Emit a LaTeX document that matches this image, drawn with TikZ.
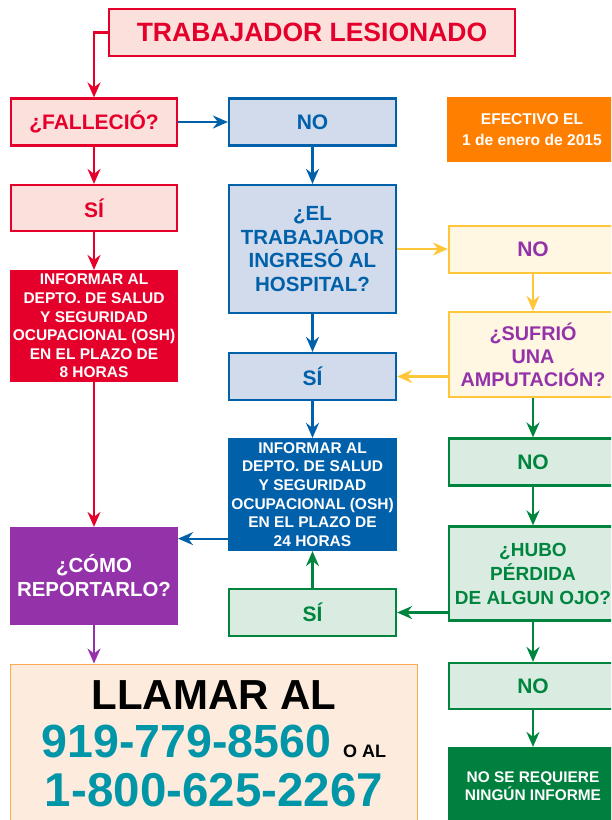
\documentclass[tikz,border=0pt]{standalone}
\usepackage{fontspec}
\setmainfont{Liberation Sans}
\usetikzlibrary{arrows.meta}
\definecolor{diagramrojo}{RGB}{228,0,43}
\definecolor{rojoclaro}{RGB}{252,224,220}
\definecolor{diagramazul}{RGB}{0,96,170}
\definecolor{azulclaro}{RGB}{209,219,236}
\definecolor{diagramamarillo}{RGB}{255,198,58}
\definecolor{amarilloclaro}{RGB}{255,247,226}
\definecolor{diagrammorado}{RGB}{148,50,170}
\definecolor{diagramverde}{RGB}{0,133,62}
\definecolor{verdeclaro}{RGB}{218,236,225}
\definecolor{verdeoscuro}{RGB}{0,128,62}
\definecolor{diagramnaranja}{RGB}{255,128,0}
\definecolor{durazno}{RGB}{253,235,222}
\definecolor{bordenaranja}{RGB}{250,170,80}
\definecolor{turquesa}{RGB}{0,150,168}
\newcommand{\tam}[2]{\fontsize{#1}{#2}\selectfont}

\begin{document}
\begin{tikzpicture}[x=1pt, y=-1pt,
        every node/.style={align=center, inner sep=0pt},
        caja/.style={rectangle, line width=2.2pt},
        cajaRoja/.style={caja, draw=diagramrojo, fill=rojoclaro, text=diagramrojo},
        cajaAzul/.style={caja, draw=diagramazul, fill=azulclaro, text=diagramazul},
        cajaAmarilla/.style={caja, draw=diagramamarillo, fill=amarilloclaro, text=diagrammorado},
        cajaVerde/.style={caja, draw=diagramverde, fill=verdeclaro, text=diagramverde},
        izq/.style={minimum width=166pt},
        medio/.style={minimum width=167pt},
        der/.style={minimum width=168pt},
        flecha/.style={-{Stealth[length=15pt,width=13pt,inset=5pt]}, line width=2.2pt}]

        \useasboundingbox (0,0) rectangle (611,820);
        \clip (0,0) rectangle (611,820);

        % Left column
        \node[cajaRoja, minimum width=406pt, minimum height=47pt, font=\bfseries\tam{26.5}{30}] (tituloBox) at (312,32.5) {TRABAJADOR LESIONADO};
        \node[cajaRoja, izq, minimum height=47pt, font=\bfseries\tam{21}{24}] (fallecioBox) at (94,122) {¿FALLECIÓ?};
        \node[cajaRoja, izq, minimum height=46pt, font=\bfseries\tam{21}{24}] (siRojoBox) at (94,208) {SÍ};
        \node[caja, izq, draw=diagramrojo, fill=diagramrojo, text=white, minimum height=110pt, font=\bfseries\tam{15.5}{18.6}] (informarRojoBox) at (94,326) {%
            INFORMAR AL\\DEPTO. DE SALUD\\Y SEGURIDAD\\OCUPACIONAL (OSH)\\EN EL PLAZO DE\\8 HORAS};
        \node[caja, izq, draw=diagrammorado, fill=diagrammorado, text=white, minimum height=96pt, font=\bfseries\tam{20.4}{24}] (comoBox) at (94,576) {¿CÓMO\\REPORTARLO?};
        \node[caja, line width=1pt, draw=bordenaranja, fill=durazno, minimum width=407pt, minimum height=159pt, font=\bfseries\tam{42}{48.5}] (llamarBox) at (214,743.5) {%
            LLAMAR AL\\
            {\color{turquesa}\tam{46.5}{48.5}919-779-8560} {\tam{18}{48.5}O AL}\\
            {\color{turquesa}\tam{47.5}{48.5}1-800-625-2267}};

        % Middle column
        \node[cajaAzul, medio, minimum height=47pt, font=\bfseries\tam{21}{24}] (noAzulBox) at (312.5,122) {NO};
        \node[cajaAzul, medio, minimum height=128pt, font=\bfseries\tam{20.5}{23.5}] (hospitalBox) at (312.5,249) {¿EL\\TRABAJADOR\\INGRESÓ AL\\HOSPITAL?};
        \node[cajaAzul, medio, minimum height=47pt, font=\bfseries\tam{21}{24}] (siAzulBox) at (312.5,376.5) {SÍ};
        \node[caja, medio, draw=diagramazul, fill=diagramazul, text=white, minimum height=111pt, font=\bfseries\tam{15.5}{18.6}] (informarAzulBox) at (312.5,494.5) {%
            INFORMAR AL\\DEPTO. DE SALUD\\Y SEGURIDAD\\OCUPACIONAL (OSH)\\EN EL PLAZO DE\\24 HORAS};
        \node[cajaVerde, medio, minimum height=47pt, font=\bfseries\tam{21}{24}] (siVerdeBox) at (312.5,612.5) {SÍ};

        % Right column
        \node[fill=diagramnaranja, text=white, minimum width=170pt, minimum height=65pt, font=\bfseries\tam{15.6}{21}] (efectivoBox) at (532,129.5) {EFECTIVO EL\\1 de enero de 2015};
        \node[cajaAmarilla, der, minimum height=47pt, font=\bfseries\tam{21}{24}] (noAmarilloBox) at (533,249.5) {NO};
        \node[cajaAmarilla, der, minimum height=85pt, font=\bfseries\tam{19.8}{23}] (amputacionBox) at (533,354.5) {¿SUFRIÓ\\UNA\\AMPUTACIÓN?};
        \node[cajaVerde, der, minimum height=47pt, font=\bfseries\tam{21}{24}] (noVerdeBox) at (533,462) {NO};
        \node[cajaVerde, der, minimum height=94pt, font=\bfseries\tam{19}{24}] (ojoBox) at (533,573.5) {¿HUBO\\PÉRDIDA\\DE ALGUN OJO?};
        \node[cajaVerde, der, minimum height=46pt, font=\bfseries\tam{21}{24}] (noVerdeDosBox) at (533,686) {NO};
        \node[caja, der, draw=verdeoscuro, fill=verdeoscuro, text=white, minimum height=76pt, font=\bfseries\tam{15.4}{18}] (ningunBox) at (533,786) {NO SE REQUIERE\\NINGÚN INFORME};

        % Connectors
        \draw[flecha, diagramrojo] (tituloBox.west) -| (fallecioBox.north);
        \draw[flecha, diagramrojo] (fallecioBox) -- (siRojoBox);
        \draw[flecha, diagramrojo] (siRojoBox) -- (informarRojoBox);
        \draw[flecha, diagramrojo] (informarRojoBox) -- (comoBox);
        \draw[flecha, diagrammorado] (comoBox.south) -- (comoBox.south |- llamarBox.north);
        \draw[flecha, diagramazul] (fallecioBox) -- (noAzulBox);
        \draw[flecha, diagramazul] (noAzulBox) -- (hospitalBox);
        \draw[flecha, diagramazul] (hospitalBox) -- (siAzulBox);
        \draw[flecha, diagramazul] (siAzulBox) -- (informarAzulBox);
        \coordinate (salidaAzul) at ([yshift=12.5pt]informarAzulBox.south west);
        \draw[flecha, diagramazul] (salidaAzul) -- (salidaAzul -| comoBox.east);
        \draw[flecha, diagramamarillo] (hospitalBox.east) -- (hospitalBox.east -| noAmarilloBox.west);
        \draw[flecha, diagramamarillo] (noAmarilloBox) -- (amputacionBox);
        \draw[flecha, diagramamarillo] (amputacionBox.west |- siAzulBox.east) -- (siAzulBox.east);
        \draw[flecha, diagramverde] (amputacionBox) -- (noVerdeBox);
        \draw[flecha, diagramverde] (noVerdeBox) -- (ojoBox);
        \draw[flecha, diagramverde] (ojoBox.west |- siVerdeBox.east) -- (siVerdeBox.east);
        \draw[flecha, diagramverde] (siVerdeBox) -- (informarAzulBox);
        \draw[flecha, diagramverde] (ojoBox) -- (noVerdeDosBox);
        \draw[flecha, diagramverde] (noVerdeDosBox) -- (ningunBox);

    \end{tikzpicture}
\end{document}
